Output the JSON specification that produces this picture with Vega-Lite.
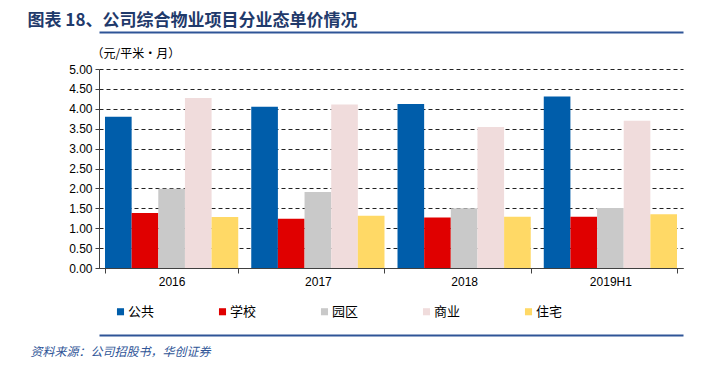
{
  "$schema": "https://vega.github.io/schema/vega-lite/v6.json",
  "width": 584,
  "height": 199,
  "autosize": {"type": "none"},
  "padding": {"left": 99, "top": 69, "right": 37, "bottom": 98},
  "background": "white",
  "config": {
    "view": {"stroke": null},
    "axis": {"labelFont": "Liberation Sans", "labelFontSize": 12, "labelColor": "#000000"}
  },
  "data": {
    "values": [
      {"period": "2016", "type": "公共", "value": 3.80},
      {"period": "2016", "type": "学校", "value": 1.38},
      {"period": "2016", "type": "园区", "value": 1.99},
      {"period": "2016", "type": "商业", "value": 4.27},
      {"period": "2016", "type": "住宅", "value": 1.28},
      {"period": "2017", "type": "公共", "value": 4.05},
      {"period": "2017", "type": "学校", "value": 1.24},
      {"period": "2017", "type": "园区", "value": 1.91},
      {"period": "2017", "type": "商业", "value": 4.11},
      {"period": "2017", "type": "住宅", "value": 1.31},
      {"period": "2018", "type": "公共", "value": 4.12},
      {"period": "2018", "type": "学校", "value": 1.27},
      {"period": "2018", "type": "园区", "value": 1.50},
      {"period": "2018", "type": "商业", "value": 3.54},
      {"period": "2018", "type": "住宅", "value": 1.29},
      {"period": "2019H1", "type": "公共", "value": 4.31},
      {"period": "2019H1", "type": "学校", "value": 1.29},
      {"period": "2019H1", "type": "园区", "value": 1.51},
      {"period": "2019H1", "type": "商业", "value": 3.70},
      {"period": "2019H1", "type": "住宅", "value": 1.35}
    ]
  },
  "layer": [
    {
      "mark": {"type": "bar"},
      "encoding": {
        "x": {
          "field": "period", "type": "nominal",
          "sort": ["2016", "2017", "2018", "2019H1"],
          "scale": {"type": "band", "paddingInner": 0.089, "paddingOuter": 0.041},
          "axis": {
            "title": null, "labelAngle": 0, "tickBand": "extent",
            "domainColor": "#404040", "tickColor": "#404040", "tickSize": 5,
            "labelPadding": 3
          }
        },
        "xOffset": {
          "field": "type", "type": "nominal",
          "sort": ["公共", "学校", "园区", "商业", "住宅"],
          "scale": {"paddingInner": 0, "paddingOuter": 0}
        },
        "y": {
          "field": "value", "type": "quantitative",
          "scale": {"domain": [0, 5], "nice": false},
          "axis": {
            "values": [0, 0.5, 1, 1.5, 2, 2.5, 3, 3.5, 4, 4.5, 5],
            "format": ".2f",
            "grid": true, "gridDash": [4, 3], "gridColor": "#222222", "gridOpacity": 1, "gridWidth": 1,
            "domainColor": "#404040", "tickColor": "#404040", "tickSize": 4, "labelPadding": 3,
            "title": "（元/平米·月）",
            "titleAngle": 0, "titleAlign": "left", "titleBaseline": "middle",
            "titleX": -8, "titleY": -16,
            "titleFont": "Noto Sans CJK SC", "titleFontSize": 12, "titleFontWeight": "normal", "titleColor": "#000000"
          }
        },
        "color": {
          "field": "type", "type": "nominal",
          "sort": ["公共", "学校", "园区", "商业", "住宅"],
          "scale": {
            "domain": ["公共", "学校", "园区", "商业", "住宅"],
            "range": ["#005DAA", "#E00000", "#C9C9C9", "#F0DCDC", "#FFD966"]
          },
          "legend": {
            "title": null,
            "orient": "none",
            "legendX": 15,
            "legendY": 236,
            "direction": "horizontal",
            "columns": 5,
            "columnPadding": 61,
            "symbolType": "square",
            "symbolSize": 50,
            "symbolStrokeWidth": 0,
            "labelOffset": 1,
            "labelFont": "Noto Sans CJK SC",
            "labelFontSize": 13,
            "labelColor": "#000000"
          }
        }
      }
    },
    {
      "mark": {"type": "bar", "opacity": 0},
      "encoding": {
        "x": {
          "field": "period", "type": "nominal",
          "sort": ["2016", "2017", "2018", "2019H1"],
          "axis": {
            "orient": "top", "offset": 37, "labels": false, "ticks": false,
            "domainColor": "#2F5597", "domainWidth": 2,
            "title": "图表 18、公司综合物业项目分业态单价情况",
            "titleX": -72, "titleY": -7, "titleAlign": "left", "titleBaseline": "alphabetic",
            "titleFont": "Noto Sans CJK SC", "titleFontSize": 17, "titleFontWeight": "bold", "titleColor": "#1F3A6B"
          }
        }
      }
    },
    {
      "mark": {"type": "bar", "opacity": 0},
      "encoding": {
        "x": {
          "field": "period", "type": "nominal",
          "sort": ["2016", "2017", "2018", "2019H1"],
          "axis": {
            "orient": "bottom", "offset": 67, "labels": false, "ticks": false,
            "domainColor": "#2F5597", "domainWidth": 2,
            "title": "资料来源：公司招股书，华创证券",
            "titleX": -69, "titleY": 20, "titleAlign": "left", "titleBaseline": "alphabetic",
            "titleFont": "Noto Sans CJK SC", "titleFontSize": 12, "titleFontWeight": "normal",
            "titleFontStyle": "italic", "titleColor": "#2F5597"
          }
        }
      }
    }
  ],
  "resolve": {"axis": {"x": "independent"}}
}
